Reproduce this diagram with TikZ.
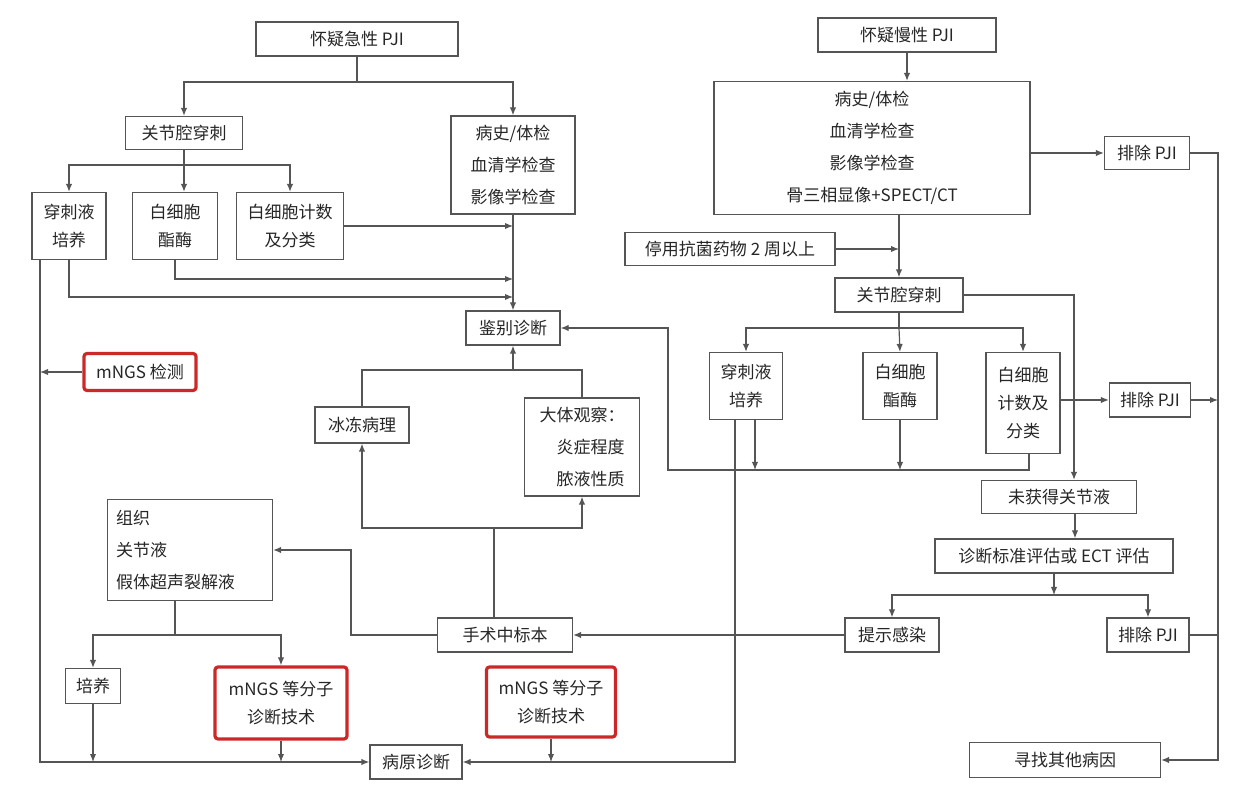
\documentclass[tikz,border=0pt]{standalone}
\usepackage{fontspec}
\setmainfont{Noto Sans CJK SC}
\usepackage{xcolor}
\usetikzlibrary{arrows.meta}
\usetikzlibrary{calc}
\definecolor{boxred}{RGB}{205,40,40}
\definecolor{linegray}{RGB}{85,85,85}
\tikzset{
  box/.style={draw=linegray, line width=0.6pt, inner sep=0pt, align=center,
    font=\fontsize{8.5}{14}\selectfont, text=black!85},
  redbox/.style={box, draw=boxred, line width=1.6pt, rounded corners=1.5pt},
  sz/.style 2 args={minimum width=#1*0.5pt, minimum height=#2*0.5pt},
  arr/.style={-{Latex[length=4pt,width=3.2pt]}, draw=linegray, line width=0.6pt},
  ln/.style={draw=linegray, line width=0.6pt}
}
\begin{document}
\begin{tikzpicture}[x=0.5pt, y=-0.5pt]
  \useasboundingbox (0,0) rectangle (1238,796);
  % acute side
  \node[box, sz={202}{34}] (A) at (357,39) {怀疑急性 PJI};
  \node[box, sz={117}{33}] (B) at (184,133) {关节腔穿刺};
  \node[box, sz={124}{98}, font=\fontsize{8.5}{16}\selectfont] (C) at (513,165) {病史/体检\\血清学检查\\影像学检查};
  \node[box, sz={74}{67}] (D1) at (69,226) {穿刺液\\培养};
  \node[box, sz={85}{67}] (D2) at (175,226) {白细胞\\酯酶};
  \node[box, sz={107}{67}] (D3) at (290,226) {白细胞计数\\及分类};
  \node[box, sz={94}{34}] (E) at (513,328) {鉴别诊断};
  \node[redbox, sz={112}{37}] (F) at (140,372) {mNGS 检测};
  \node[box, sz={94}{36}] (G) at (362,425) {冰冻病理};
  \node[box, sz={115}{98}, align=right, font=\fontsize{8.5}{16}\selectfont] (H) at (582,447) {大体观察：\\炎症程度\\脓液性质};
  \node[box, sz={165}{101}, align=left, text width=74pt, font=\fontsize{8.5}{16}\selectfont] (I) at (190,550) {组织\\关节液\\假体超声裂解液};
  \node[box, sz={135}{34}] (J) at (505,635) {手术中标本};
  \node[box, sz={55}{35}] (K) at (93,686) {培养};
  \node[redbox, sz={132}{72}] (L) at (281,703) {mNGS 等分子\\诊断技术};
  \node[redbox, sz={129}{70}] (M) at (551,702) {mNGS 等分子\\诊断技术};
  \node[box, sz={92}{34}] (N) at (416,762) {病原诊断};
  % chronic side
  \node[box, sz={178}{34}] (P) at (907,35) {怀疑慢性 PJI};
  \node[box, sz={316}{133}, font=\fontsize{8.5}{16}\selectfont] (Q) at (872,148) {病史/体检\\血清学检查\\影像学检查\\骨三相显像+SPECT/CT};
  \node[box, sz={85}{33}] (R1) at (1147,153) {排除 PJI};
  \node[box, sz={210}{33}] (S) at (730,249) {停用抗菌药物 2 周以上};
  \node[box, sz={128}{34}] (T) at (899,295) {关节腔穿刺};
  \node[box, sz={73}{67}] (U1) at (746,386) {穿刺液\\培养};
  \node[box, sz={74}{67}] (U2) at (900,386) {白细胞\\酯酶};
  \node[box, sz={74}{101}] (U3) at (1023,403) {白细胞\\计数及\\分类};
  \node[box, sz={81}{34}] (R2) at (1150,400) {排除 PJI};
  \node[box, sz={155}{33}] (V) at (1059,497) {未获得关节液};
  \node[box, sz={238}{34}] (W) at (1054,556) {诊断标准评估或 ECT 评估};
  \node[box, sz={94}{34}] (X) at (892,635) {提示感染};
  \node[box, sz={82}{34}] (R3) at (1148,635) {排除 PJI};
  \node[box, sz={191}{35}] (Y) at (1065,760) {寻找其他病因};
  % acute connectors
  \draw[ln] (A.south) -- (357,82);
  \draw[arr] (357,82) -| (B.north);
  \draw[arr] (357,82) -| (C.north);
  \draw[ln] (B.south) -- (184,165);
  \draw[arr] (184,165) -| (D1.north);
  \draw[arr] (184,165) -- (B.south |- D2.north);
  \draw[arr] (184,165) -| (D3.north);
  \draw[arr] (C.south) -- (E.north);
  \draw[arr] (D3.east) -- (D3.east -| C.south);
  \draw[arr] (D2.south) |- (513,279);
  \draw[arr] (D1.south) |- (513,297);
  \draw[arr] (D1.south -| 40,0) -- (40,762) -- (N.west);
  \draw[arr] (F.west) -- (40,372);
  \draw[ln] (G.north) |- (H.north |- 0,370) -- (H.north);
  \draw[arr] (E.south |- 0,370) -- (E.south);
  \draw[ln] ([xshift=-5.5pt]J.north) -- (494,528);
  \draw[arr] (494,528) -| (G.south);
  \draw[arr] (494,528) -| (H.south);
  \draw[arr] (J.west) -| (351,550) -- (I.east);
  \draw[ln] (I.south -| 175,0) -- (175,635);
  \draw[arr] (175,635) -| (K.north);
  \draw[arr] (175,635) -| (L.north);
  \draw[arr] (K.south) -- (K.south |- N.west);
  \draw[arr] (L.south) -- (L.south |- N.west);
  \draw[arr] (M.south) -- (M.south |- N.east);
  \draw[arr] (U1.south -| 735,0) -- (735,762) -- (N.east);
  % chronic connectors
  \draw[arr] (P.south) -- (P.south |- Q.north);
  \draw[arr] (Q.east |- R1.west) -- (R1.west);
  \draw[arr] (T.north |- Q.south) -- (T.north);
  \draw[arr] (S.east) -- (S.east -| T.north);
  \draw[ln] (T.south) -- (T.south |- 0,328);
  \draw[arr] (T.south |- 0,328) -| (U1.north);
  \draw[arr] (T.south |- 0,328) -- (U2.north);
  \draw[arr] (T.south |- 0,328) -| (U3.north);
  \draw[arr] (T.east) -| ([xshift=7.5pt]V.north);
  \draw[arr] (U1.south -| 755,0) -- (755,470);
  \draw[arr] (U2.south) -- (U2.south |- 0,470);
  \draw[arr] (U3.south -| 1029,0) |- (668,470) |- (E.east);
  \draw[arr] (U3.east |- R2.west) -- (R2.west);
  \draw[arr] (R2.east) -- (1218,400);
  \draw[arr] (R1.east) -- (1218,153) |- (Y.east);
  \draw[ln] (R3.east) -- (1218,635);
  \draw[arr] ([xshift=8pt]V.south) -- ([xshift=8pt]V.south |- W.north);
  \draw[arr] (W.south) -- (W.south |- 0,595);
  \draw[arr] (W.south |- 0,595) -| (X.north);
  \draw[arr] (W.south |- 0,595) -| (R3.north);
  \draw[arr] (X.west) -- (J.east);
\end{tikzpicture}
\end{document}
